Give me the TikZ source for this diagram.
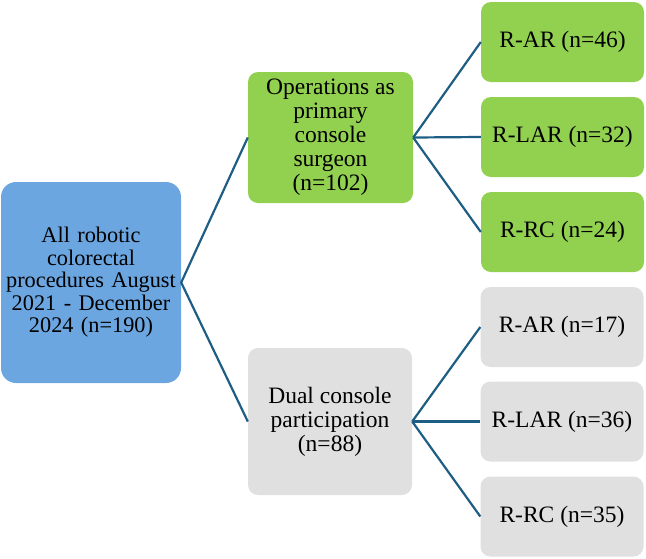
\documentclass[tikz,border=0pt]{standalone}
\usepackage{fontspec}
\setmainfont{Liberation Serif}
\definecolor{boxblue}{HTML}{6CA6E0}
\definecolor{boxgreen}{HTML}{92D050}
\definecolor{boxgray}{HTML}{E0E0E0}
\definecolor{linkcol}{HTML}{1F5E84}
\begin{document}
\begin{tikzpicture}[x=1pt,y=1pt,
  base/.style={rectangle, rounded corners=10pt, inner sep=2pt, align=center, text=black,
    font=\fontsize{23.5}{24}\selectfont},
  rootbox/.style={base, fill=boxblue, rounded corners=15pt, minimum width=180pt, minimum height=201pt,
    text width=176pt, font=\fontsize{22.3}{22.5}\selectfont},
  gbox/.style={base, fill=boxgreen},
  ybox/.style={base, fill=boxgray},
  leaf/.style={minimum width=163pt, minimum height=80pt},
  link/.style={draw=linkcol, line width=2.2pt, line join=round}]
\useasboundingbox (0,0) rectangle (646,-558);
\node[rootbox] (root) at (91,-282.5) {All robotic\\colorectal\\procedures August\\2021 - December\\2024 (n=190)};
\node[gbox, minimum width=165pt, minimum height=131pt] (prim) at (330.5,-137.5) {Operations as\\primary\\console\\surgeon\\(n=102)};
\node[ybox, minimum width=164pt, minimum height=147pt] (dual) at (330,-421.5) {Dual console\\participation\\(n=88)};
\node[gbox, leaf] (g1) at (562.5,-42) {R-AR (n=46)};
\node[gbox, leaf] (g2) at (562.5,-137) {R-LAR (n=32)};
\node[gbox, leaf] (g3) at (562.5,-232) {R-RC (n=24)};
\node[ybox, leaf] (y1) at (562,-327) {R-AR (n=17)};
\node[ybox, leaf] (y2) at (562,-421.5) {R-LAR (n=36)};
\node[ybox, leaf] (y3) at (562,-516.5) {R-RC (n=35)};
\draw[link] (prim.west) -- (root.east) -- (dual.west);
\draw[link] (prim.east) -- (g1.west);
\draw[link] (prim.east) -- (g2.west);
\draw[link] (prim.east) -- (g3.west);
\draw[link] (dual.east) -- (y1.west);
\draw[link] (dual.east) -- (y2.west);
\draw[link] (dual.east) -- (y3.west);
\end{tikzpicture}
\end{document}
